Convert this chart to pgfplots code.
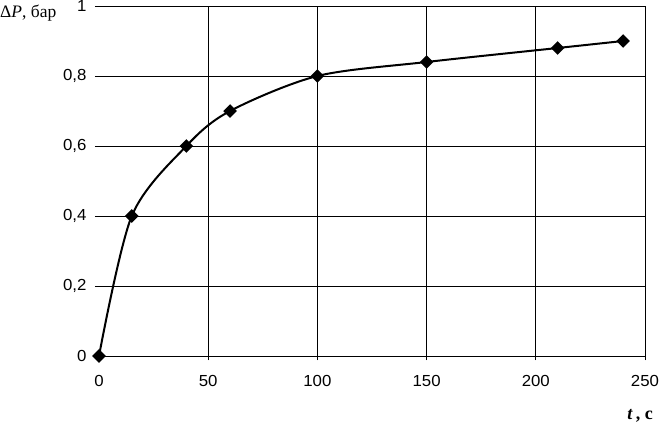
\documentclass[border=0pt]{standalone}
\usepackage{pgfplots}
\pgfplotsset{compat=1.18}
\usepackage{fontspec}
\setmainfont{Liberation Serif}
\newfontfamily\tickfont[FakeStretch=1.05]{Liberation Sans}
\begin{document}
\begin{tikzpicture}
\begin{axis}[
  scale only axis, width=546pt, height=350pt,
  xmin=0, xmax=250, ymin=0, ymax=1,
  axis line style={draw=none},
  xtick={0,50,100,150,200,250},
  ytick={0,0.2,0.4,0.6,0.8,1},
  yticklabels={0,{0,2},{0,4},{0,6},{0,8},1},
  xtick pos=left, ytick pos=left,
  tick align=outside, major tick length=4pt,
  tick style={black, line width=0.8pt},
  ymajorgrids, grid style={black, line width=0.8pt},
  extra x ticks={50,100,150,200,250}, extra x tick labels={},
  extra x tick style={grid=major},
  ticklabel style={font=\fontsize{16}{18}\tickfont},
  xticklabel style={yshift=-12pt},
  yticklabel style={xshift=-5pt},
  /pgf/number format/assume math mode=true,
  clip=false,
]
\addplot[black, line width=2pt, smooth, tension=0.5,
  mark=square*, mark size=3.8pt, mark options={rotate=45, solid, fill=black}]
  coordinates {(0,0) (15,0.4) (40,0.6) (60,0.7) (100,0.8) (150,0.84) (210,0.88) (240,0.9)};
\node[anchor=base west, inner sep=0pt, font=\fontsize{17.5}{20}\selectfont, xshift=-99pt, yshift=-11pt] at (rel axis cs:0,1) {Δ\textit{P}, бар};
\node[anchor=base east, inner sep=0pt, font=\fontsize{18}{20}\selectfont\bfseries, xshift=8pt, yshift=-63pt] at (rel axis cs:1,0) {\textit{t}\,, с};
\end{axis}
\pgfresetboundingbox
\path (-99pt,-68pt) rectangle (562pt,356pt);
\end{tikzpicture}
\end{document}
